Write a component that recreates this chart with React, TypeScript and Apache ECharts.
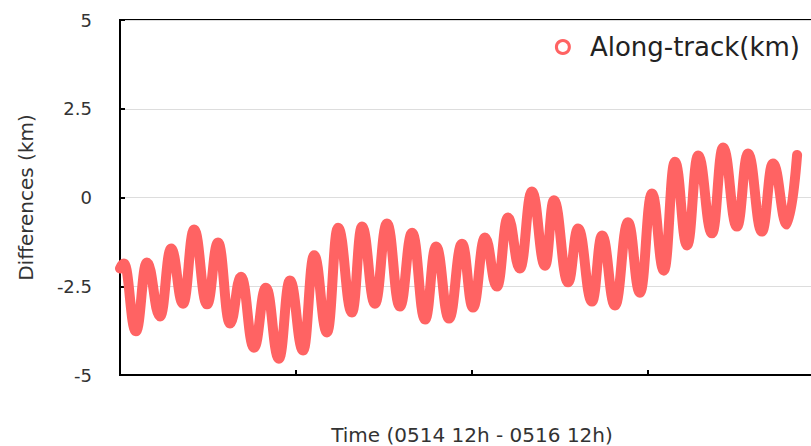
import React, { useEffect, useRef } from "react";
import * as echarts from "echarts";

// Time in minutes since 0514 12h (turning points of the along-track difference curve)
const timeMinutes = [
  0, 16, 65, 110, 164, 209, 258, 303, 356, 401, 450, 495, 548, 597, 650, 695,
  749, 794, 847, 892, 949, 990, 1043, 1092, 1145, 1195, 1248, 1293, 1346, 1399,
  1444, 1493, 1542, 1587, 1636, 1685, 1739, 1775, 1833, 1874, 1931, 1972, 2025,
  2078, 2127, 2176, 2225, 2270, 2320, 2365, 2422, 2467, 2524, 2569, 2626, 2671,
  2729, 2770,
];
// Along-track differences (km)
const alongTrack = [
  -2.0, -1.86, -3.77, -1.83, -3.35, -1.44, -2.99, -0.9, -3.01, -1.27, -3.55,
  -2.23, -4.23, -2.54, -4.54, -2.34, -4.31, -1.63, -3.8, -0.85, -3.24, -0.82,
  -2.99, -0.73, -3.07, -0.99, -3.44, -1.38, -3.41, -1.3, -3.1, -1.13, -2.51,
  -0.56, -2.0, 0.17, -1.92, -0.08, -2.39, -0.87, -2.93, -1.07, -3.04, -0.7,
  -2.68, 0.11, -2.06, 1.01, -1.35, 1.18, -1.01, 1.41, -0.82, 1.24, -0.96, 0.96,
  -0.76, 1.2,
];
const yTicks = [-5, -2.5, 0, 2.5, 5];
const seriesName = "Along-track(km)";
const xTitle = "Time (0514 12h - 0516 12h)";
const yTitle = "Differences (km)";

const FONT = "DejaVu Sans";
const COLOR = "#ff6363";

export default function App() {
  const ref = useRef<HTMLDivElement>(null);
  useEffect(() => {
    if (!ref.current) return;
    const chart = echarts.init(ref.current, undefined, { renderer: "svg" });
    const data = timeMinutes.map((t, i) => [t, alongTrack[i]]);
    chart.setOption({
      animation: false,
      textStyle: { fontFamily: FONT },
      grid: {
        left: 120,
        right: 16,
        top: 20,
        bottom: 71,
        outerBoundsMode: "none",
        containLabel: false,
        show: true,
        borderColor: "#000",
        borderWidth: 2,
      },
      legend: {
        right: 40,
        top: 34,
        padding: 0,
        icon: "circle",
        itemWidth: 44,
        itemHeight: 13,
        itemStyle: { color: "#fff", borderColor: COLOR, borderWidth: 3 },
        textStyle: { fontFamily: FONT, fontSize: 26, color: "#222" },
        data: [seriesName],
      },
      xAxis: {
        type: "value",
        min: 0,
        max: 2880,
        interval: 720,
        name: xTitle,
        nameLocation: "middle",
        nameGap: 50,
        nameTextStyle: { fontFamily: FONT, fontSize: 20, color: "#333" },
        axisLine: { show: true, onZero: false, lineStyle: { color: "#000", width: 2 } },
        axisTick: { show: true, inside: true, length: 5, lineStyle: { color: "#000", width: 2 } },
        axisLabel: { show: false },
        splitLine: { show: false },
      },
      yAxis: {
        type: "value",
        min: yTicks[0],
        max: yTicks[yTicks.length - 1],
        interval: 2.5,
        name: yTitle,
        nameLocation: "middle",
        nameGap: 84,
        nameTextStyle: { fontFamily: FONT, fontSize: 20, color: "#333" },
        axisLine: { show: true, onZero: false, lineStyle: { color: "#000", width: 2 } },
        axisTick: { show: true, inside: true, length: 5, lineStyle: { color: "#000", width: 2 } },
        axisLabel: { margin: 28, fontFamily: FONT, fontSize: 18, color: "#333" },
        splitLine: { show: true, lineStyle: { color: "#dddddd", width: 1 } },
      },
      series: [
        {
          name: seriesName,
          type: "line",
          data,
          showSymbol: false,
          symbol: "circle",
          smooth: 0.45,
          smoothMonotone: "x",
          itemStyle: { color: COLOR },
          lineStyle: { color: COLOR, width: 10, cap: "round", join: "round" },
        },
      ],
    });
    return () => chart.dispose();
  }, []);
  return (
    <div style={{ position: "fixed", left: 0, top: 0, width: 811, height: 446, overflow: "hidden", background: "#fff" }}>
      <div ref={ref} style={{ width: 840, height: 446 }} />
    </div>
  );
}
